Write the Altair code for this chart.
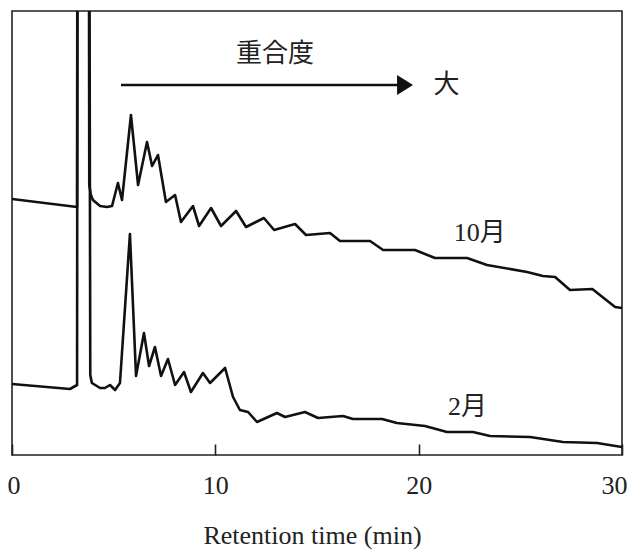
import altair as alt
import pandas as pd

# Retention time (min) and detector signal (arbitrary units)
t_oct = [0.0, 3.20, 3.25, 3.74, 3.80, 3.88, 3.98, 4.33, 4.67, 4.92, 5.21, 5.41, 5.85, 6.20, 6.64, 6.89,
         7.18, 7.57, 8.02, 8.31, 8.90, 9.20, 9.79, 10.28, 11.02, 11.51, 12.39, 12.89, 13.92, 14.46,
         15.64, 16.13, 17.61, 18.25, 19.82, 20.80, 22.38, 23.36, 25.33, 26.11, 26.71, 27.44, 28.54,
         29.66, 30.0]
v_oct = [256, 248, 1200, 1200, 270, 260, 255, 249, 248, 249, 272, 255, 340, 270, 313, 289,
         300, 253, 260, 233, 249, 229, 247, 229, 244, 228, 237, 225, 231, 220,
         222, 214, 214, 205, 205, 197, 197, 190, 183, 179, 178, 165, 166,
         148, 147]

t_feb = [0.0, 2.85, 3.20, 3.25, 3.74, 3.85, 3.93, 4.33, 4.57, 4.82, 5.07, 5.31, 5.80, 6.10, 6.49,
         6.74, 7.03, 7.33, 7.67, 8.02, 8.46, 8.80, 9.39, 9.74, 10.48, 10.87, 11.21, 11.61, 12.05,
         13.03, 13.43, 14.41, 15.05, 16.28, 16.77, 18.20, 18.93, 20.31, 21.39, 22.67, 23.51, 25.48,
         27.10, 28.77, 30.0]
v_feb = [71, 66, 70, 1200, 1200, 80, 72, 67, 67, 70, 65, 72, 221, 79, 122,
         89, 108, 79, 96, 70, 83, 63, 82, 72, 87, 58, 45, 43, 33,
         42, 38, 43, 37, 39, 36, 36, 32, 29, 23, 23, 19, 18,
         13, 12, 8]

x_ticks = [0, 10, 20, 30]

series_labels = ["10月", "2月"]
series_label_t = [23.0, 22.4]
series_label_v = [222, 48]

arrow_start, arrow_end, arrow_v = 5.36, 19.0, 370
arrow_head_t = 19.33
note_text = ["重合度", "大"]
note_t = [12.93, 21.37]
note_v = [401, 370]

FONT = "Liberation Serif, Noto Sans CJK JP"

df = pd.concat([
    pd.DataFrame({"t": t_oct, "v": v_oct, "s": "10月", "o": range(len(t_oct))}),
    pd.DataFrame({"t": t_feb, "v": v_feb, "s": "2月", "o": range(len(t_feb))}),
])

xs = alt.Scale(domain=[0, 30], nice=False)
ys = alt.Scale(domain=[0, 444], nice=False)

lines = alt.Chart(df).mark_line(color="#111", strokeWidth=2.6, clip=True,
                                strokeJoin="round", strokeCap="round").encode(
    x=alt.X("t:Q", scale=xs, title="Retention time (min)",
            axis=alt.Axis(values=x_ticks, format="d")),
    y=alt.Y("v:Q", scale=ys, axis=None),
    detail="s:N",
    order="o:Q",
)

lab_df = pd.DataFrame({"t": series_label_t, "v": series_label_v, "txt": series_labels})
labels = alt.Chart(lab_df).mark_text(font=FONT, fontSize=26, color="#222").encode(
    x=alt.X("t:Q", scale=xs), y=alt.Y("v:Q", scale=ys), text="txt:N")

arrow_df = pd.DataFrame({"a": [arrow_start], "b": [arrow_end], "v": [arrow_v], "h": [arrow_head_t]})
arrow = alt.Chart(arrow_df).mark_rule(color="#111", strokeWidth=2.5).encode(
    x=alt.X("a:Q", scale=xs), x2="b:Q", y=alt.Y("v:Q", scale=ys))
head = alt.Chart(arrow_df).mark_point(shape="M-0.8,-1L0.8,0L-0.8,1Z", size=400, filled=True,
                                      color="#111", opacity=1).encode(
    x=alt.X("h:Q", scale=xs), y=alt.Y("v:Q", scale=ys))

note_df = pd.DataFrame({"t": note_t, "v": note_v, "txt": note_text})
notes = alt.Chart(note_df).mark_text(font=FONT, fontSize=26, color="#222").encode(
    x=alt.X("t:Q", scale=xs), y=alt.Y("v:Q", scale=ys), text="txt:N")

chart = alt.layer(lines, arrow, head, labels, notes).properties(
    width=610, height=444,
    autosize=alt.AutoSizeParams(type="none"),
    padding={"left": 12, "top": 11, "right": 12, "bottom": 95},
).configure_view(stroke="#222", strokeWidth=1.6).configure_axisX(
    offset=-11, tickSize=11, tickWidth=1.6, tickColor="#222", domain=False, grid=False,
    labelFont=FONT, labelFontSize=26, labelColor="#222", labelPadding=17,
    labelFlush=True, labelFlushOffset=5,
    titleFont=FONT, titleFontSize=26, titleColor="#222", titleFontWeight="normal", titlePadding=24,
    titleX=300,
)

chart.save("out.html", embed_options={"renderer": "svg", "actions": False})
